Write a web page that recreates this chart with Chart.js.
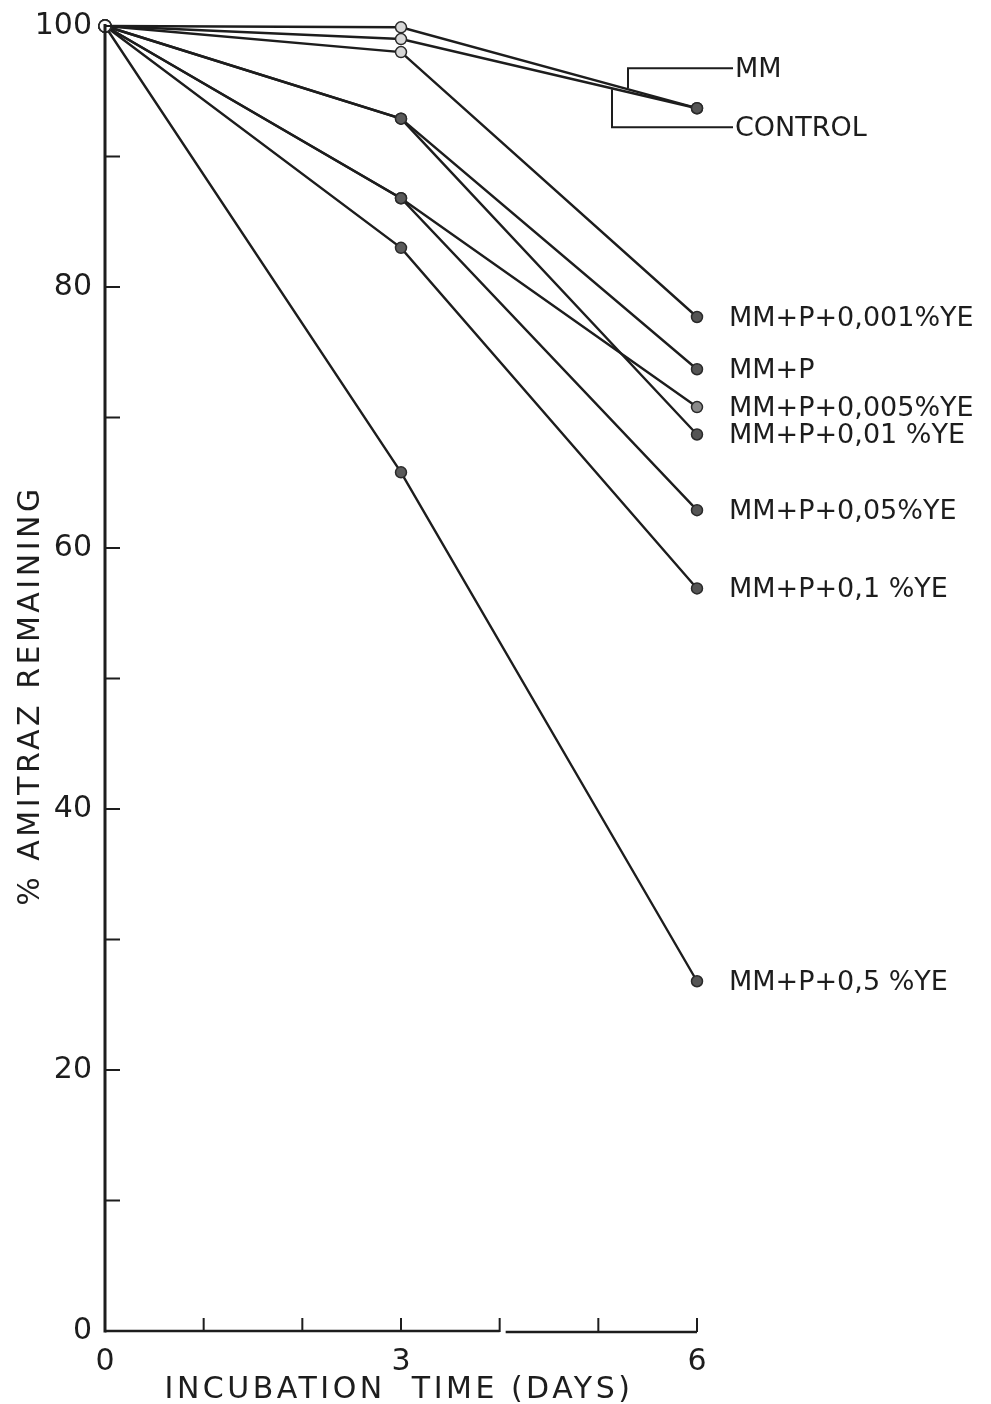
<!DOCTYPE html>
<html>
<head>
<meta charset="utf-8">
<title>Amitraz remaining</title>
<script src="https://cdn.jsdelivr.net/npm/chart.js@4/dist/chart.umd.min.js"></script>
<style>
    html, body { margin: 0; padding: 0; background: #fff; }
    #wrap { width: 991px; height: 1404px; position: relative; }
</style>
</head>
<body>
<div id="wrap"><canvas id="amitraz-chart" width="991" height="1404"></canvas></div>
<script>
// Incubation days and % amitraz remaining per medium
const days = [0, 3, 6];

const mm        = [100, 99.9, 93.7];
const control   = [100, 99.0, 93.7];
const ye0001    = [100, 98.0, 77.7];
const mmP       = [100, 92.9, 73.7];
const ye0005    = [100, 86.8, 70.8];
const ye001     = [100, 92.9, 68.7];
const ye005     = [100, 86.8, 62.9];
const ye01      = [100, 83.0, 56.9];
const ye05      = [100, 65.8, 26.8];

const seriesNames = [
    'MM', 'CONTROL', 'MM+P+0,001%YE', 'MM+P', 'MM+P+0,005%YE',
    'MM+P+0,01 %YE', 'MM+P+0,05%YE', 'MM+P+0,1 %YE', 'MM+P+0,5 %YE'
];
const seriesValues = [mm, control, ye0001, mmP, ye0005, ye001, ye005, ye01, ye05];

const xTickLabels = [0, 3, 6];
const yTickLabels = [0, 20, 40, 60, 80, 100];
const xTitle = 'INCUBATION  TIME (DAYS)';
const yTitle = '% AMITRAZ REMAINING';

const INK = '#1d1d1d';
const FONT = '"DejaVu Sans", "Liberation Sans", sans-serif';

const datasets = seriesNames.map((name, i) => ({
    label: name,
    data: days.map((d, j) => ({ x: d, y: seriesValues[i][j] })),
    clip: false,
    borderColor: INK,
    borderWidth: 2.4,
    tension: 0,
    pointRadius: [6, 5.5, 5.5],
    pointBorderColor: '#2a2a2a',
    pointBorderWidth: 1.5,
    pointBackgroundColor: ['#fff', i < 3 ? '#d8d8d8' : '#5a5a5a', i === 4 ? '#8a8a8a' : '#555']
}));

// hand-drawn style axes: inward ticks, a small break in the time axis, spaced titles
const axesPlugin = {
    id: 'axesPlugin',
    afterDraw(chart) {
        const { ctx, chartArea: a, scales: { x, y } } = chart;
        ctx.save();
        ctx.strokeStyle = INK;
        ctx.lineCap = 'butt';

        ctx.lineWidth = 3;
        ctx.beginPath();
        ctx.moveTo(a.left, a.top - 2);
        ctx.lineTo(a.left, a.bottom + 1.5);
        ctx.stroke();

        const brk = x.getPixelForValue(4);
        ctx.lineWidth = 2.4;
        ctx.beginPath();
        ctx.moveTo(a.left, a.bottom);
        ctx.lineTo(brk, a.bottom);
        ctx.moveTo(brk + 6, a.bottom + 1);
        ctx.lineTo(a.right, a.bottom + 1);
        ctx.stroke();

        ctx.lineWidth = 2;
        ctx.beginPath();
        y.ticks.forEach(t => {
            if (t.value <= 0) return;
            const py = y.getPixelForValue(t.value);
            ctx.moveTo(a.left, py);
            ctx.lineTo(a.left + 15, py);
        });
        x.ticks.forEach(t => {
            if (t.value <= 0) return;
            const px = x.getPixelForValue(t.value);
            ctx.moveTo(px, a.bottom + 1);
            ctx.lineTo(px, a.bottom - 13);
        });
        ctx.stroke();

        ctx.fillStyle = INK;
        ctx.font = '30px ' + FONT;
        ctx.letterSpacing = '3.5px';
        ctx.textAlign = 'center';
        ctx.textBaseline = 'middle';
        ctx.fillText(xTitle, x.getPixelForValue(3) - 2, 1390);

        ctx.translate(31, (a.top + a.bottom) / 2 + 17);
        ctx.rotate(-Math.PI / 2);
        ctx.fillText(yTitle, 0, 0);
        ctx.restore();
    }
};

// series names written beside the day-6 points; MM and CONTROL get brackets
const endLabelPlugin = {
    id: 'endLabelPlugin',
    afterDatasetsDraw(chart) {
        const { ctx } = chart;
        ctx.save();
        ctx.fillStyle = INK;
        ctx.strokeStyle = INK;
        ctx.font = '27px ' + FONT;
        ctx.textBaseline = 'middle';
        ctx.textAlign = 'left';

        chart.data.datasets.forEach((ds, i) => {
            const pts = chart.getDatasetMeta(i).data;
            const end = pts[pts.length - 1];
            if (i >= 2) {
                ctx.fillText(ds.label, end.x + 32, end.y + 2);
                return;
            }
            // bracket label: vertical stub meets the segment between day 3 and day 6
            const mid = pts[pts.length - 2];
            const textY = i === 0 ? end.y - 40 : end.y + 19;
            const stubX = end.x - (i === 0 ? 69 : 85);
            const t = (stubX - mid.x) / (end.x - mid.x);
            const lineY = mid.y + t * (end.y - mid.y);
            const textX = end.x + 38;
            ctx.lineWidth = 2;
            ctx.beginPath();
            ctx.moveTo(textX - 2, textY);
            ctx.lineTo(stubX, textY);
            ctx.lineTo(stubX, lineY + (i === 0 ? -1 : 1));
            ctx.stroke();
            ctx.fillText(ds.label, textX, textY + 2);
        });
        ctx.restore();
    }
};

new Chart(document.getElementById('amitraz-chart').getContext('2d'), {
    type: 'line',
    data: { datasets },
    options: {
        responsive: false,
        animation: false,
        devicePixelRatio: 1,
        layout: { padding: { left: 0, right: 294, top: 26, bottom: 0 } },
        plugins: {
            legend: { display: false },
            tooltip: { enabled: false }
        },
        scales: {
            x: {
                type: 'linear',
                min: 0,
                max: 6,
                grid: { display: false },
                border: { display: false },
                ticks: {
                    stepSize: 1,
                    autoSkip: false,
                    maxRotation: 0,
                    padding: 5,
                    color: INK,
                    font: { family: FONT, size: 30 },
                    callback: v => xTickLabels.includes(v) ? String(v) : ''
                },
                afterFit: s => { s.height = 73; }
            },
            y: {
                min: 0,
                max: 100,
                grid: { display: false },
                border: { display: false },
                ticks: {
                    stepSize: 10,
                    autoSkip: false,
                    padding: 5,
                    color: INK,
                    font: { family: FONT, size: 30 },
                    callback: v => yTickLabels.includes(v) ? String(v) : ''
                },
                afterFit: s => { s.width = 105; }
            }
        }
    },
    plugins: [axesPlugin, endLabelPlugin]
});
</script>
</body>
</html>
